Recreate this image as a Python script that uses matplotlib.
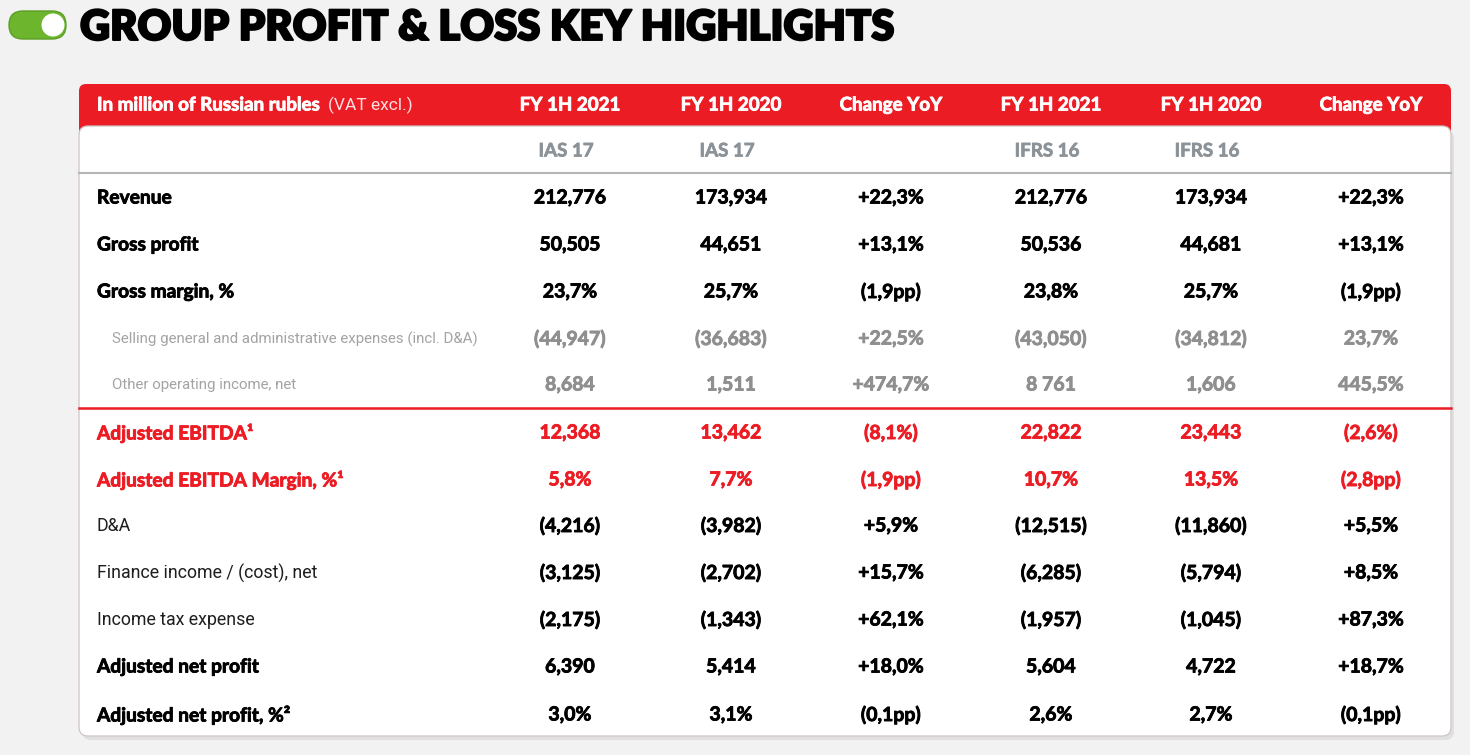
import matplotlib.pyplot as plt
import matplotlib.patheffects as pe
from matplotlib.patches import FancyBboxPatch, Circle

# table content
row_labels = ["Revenue", "Gross profit", "Gross margin, %",
              "Selling general and administrative expenses (incl. D&A)",
              "Other operating income, net",
              "Adjusted EBITDA\u00b9", "Adjusted EBITDA Margin, %\u00b9",
              "D&A", "Finance income / (cost), net", "Income tax expense",
              "Adjusted net profit", "Adjusted net profit, %\u00b2"]
row_kinds = ["bold", "bold", "bold", "gray", "gray", "red", "red",
             "plain", "plain", "plain", "bold", "bold"]

col_headers = ["FY 1H 2021", "FY 1H 2020", "Change YoY",
               "FY 1H 2021", "FY 1H 2020", "Change YoY"]
col_standards = ["IAS 17", "IAS 17", "", "IFRS 16", "IFRS 16", ""]

ias_2021 = ["212,776", "50,505", "23,7%", "(44,947)", "8,684", "12,368", "5,8%",
            "(4,216)", "(3,125)", "(2,175)", "6,390", "3,0%"]
ias_2020 = ["173,934", "44,651", "25,7%", "(36,683)", "1,511", "13,462", "7,7%",
            "(3,982)", "(2,702)", "(1,343)", "5,414", "3,1%"]
ias_change = ["+22,3%", "+13,1%", "(1,9pp)", "+22,5%", "+474,7%", "(8,1%)", "(1,9pp)",
              "+5,9%", "+15,7%", "+62,1%", "+18,0%", "(0,1pp)"]
ifrs_2021 = ["212,776", "50,536", "23,8%", "(43,050)", "8 761", "22,822", "10,7%",
             "(12,515)", "(6,285)", "(1,957)", "5,604", "2,6%"]
ifrs_2020 = ["173,934", "44,681", "25,7%", "(34,812)", "1,606", "23,443", "13,5%",
             "(11,860)", "(5,794)", "(1,045)", "4,722", "2,7%"]
ifrs_change = ["+22,3%", "+13,1%", "(1,9pp)", "23,7%", "445,5%", "(2,6%)", "(2,8pp)",
               "+5,5%", "+8,5%", "+87,3%", "+18,7%", "(0,1pp)"]

columns = [ias_2021, ias_2020, ias_change, ifrs_2021, ifrs_2020, ifrs_change]

RED = "#ec1c24"
GRAY = "#8f8f8f"
BG = "#f2f2f2"
BOLD = ["Lato", "DejaVu Sans"]
LIGHT = ["Roboto", "DejaVu Sans"]


def heavy(color, w=0.6):
    # thicken Lato Bold a little, closer to the heavy geometric face of the original
    return [pe.withStroke(linewidth=w, foreground=color)]


fig = plt.figure(figsize=(14.7, 7.55), dpi=100)
fig.patch.set_facecolor(BG)
ax = fig.add_axes([0, 0, 1, 1])
ax.set_xlim(0, 1470)
ax.set_ylim(755, 0)
ax.axis("off")

# toggle icon + title
ax.add_patch(FancyBboxPatch((9, 11), 57, 28, boxstyle="round,pad=0,rounding_size=14",
                            fc="#6cb52d", ec="#5a9e22", lw=1))
ax.add_patch(Circle((53, 25), 11.5, fc="white", ec="none"))
ax.text(80, 28, "GROUP PROFIT & LOSS KEY HIGHLIGHTS", fontsize=30, fontweight="heavy",
        family=BOLD, color="black", va="center", ha="left", path_effects=heavy("black", 1.4))

# table frame
left, right = 79, 1451
ax.add_patch(FancyBboxPatch((left, 84), right - left, 110, boxstyle="round,pad=0,rounding_size=7",
                            fc=RED, ec="none"))
ax.add_patch(FancyBboxPatch((left + 3, 130), right - left, 610, boxstyle="round,pad=0,rounding_size=9",
                            fc="#d4d4d4", ec="none", alpha=0.6))
ax.add_patch(FancyBboxPatch((left, 126), right - left, 610, boxstyle="round,pad=0,rounding_size=9",
                            fc="white", ec="#d2c4c4", lw=0.9))
ax.plot([left, right], [173, 173], color="#b5b5b5", lw=1.5)
ax.plot([left, right], [408, 408], color=RED, lw=1.8)

col_x = [570, 731, 891, 1051, 1211, 1371]

# header row
ax.text(97, 105, "In million of Russian rubles", fontsize=13.5, fontweight="bold",
        family=BOLD, color="white", va="center", ha="left", path_effects=heavy("white", 0.6))
ax.text(328, 105, "(VAT excl.)", fontsize=12.5, fontweight="normal",
        family=LIGHT, color="#fde0e0", va="center", ha="left")
for x, h, s in zip(col_x, col_headers, col_standards):
    ax.text(x, 105, h, fontsize=13.5, fontweight="bold", family=BOLD,
            color="white", va="center", ha="center", path_effects=heavy("white", 0.6))
    if s:
        ax.text(x - 4, 151, s, fontsize=13.5, fontweight="bold", family=BOLD,
                color="#8b9399", va="center", ha="center", path_effects=heavy("#8b9399", 0.5))

row_y = [198, 245, 292, 339, 385, 433, 480, 526, 573, 620, 667, 715]
for i, (label, kind) in enumerate(zip(row_labels, row_kinds)):
    y = row_y[i]
    if kind == "gray":
        ax.text(112, y, label, fontsize=10.8, fontweight="normal", family=LIGHT,
                color="#a3a3a3", va="center", ha="left")
        vcolor = GRAY
    elif kind == "plain":
        ax.text(97, y, label, fontsize=12.8, fontweight="normal", family=LIGHT,
                color="#1e1e1e", va="center", ha="left")
        vcolor = "black"
    else:
        vcolor = RED if kind == "red" else "black"
        ax.text(97, y, label, fontsize=13.8, fontweight="bold", family=BOLD,
                color=vcolor, va="center", ha="left", path_effects=heavy(vcolor))
    for x, col in zip(col_x, columns):
        ax.text(x, y, col[i], fontsize=14, fontweight="bold", family=BOLD,
                color=vcolor, va="center", ha="center", path_effects=heavy(vcolor))

fig.savefig("out.png", dpi=100, facecolor=BG)
